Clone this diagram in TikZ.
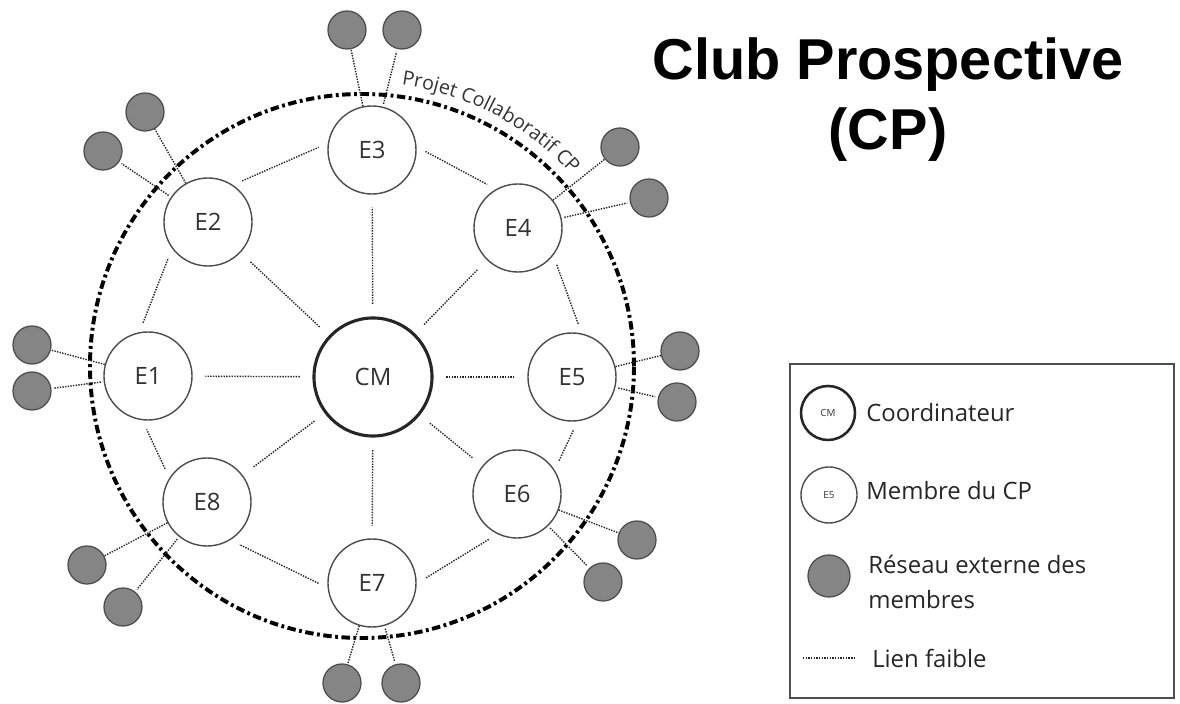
\documentclass[tikz,border=0pt]{standalone}
\usepackage{fontspec}
\setmainfont{Open Sans}
\newfontfamily\titrefont{Liberation Sans}
\usepackage{tikz}
\usetikzlibrary{
	calc,
	decorations.text,
}
\definecolor{reseau}{HTML}{858585}
\definecolor{bord}{HTML}{4D4D4D}

\begin{document}
\begin{tikzpicture}[
	x=0.025cm, y=0.025cm,
	membre/.style={circle, draw=bord, line width=1pt, fill=white, minimum size=2.2cm,
		inner sep=0pt, text=black!80, font=\fontsize{17}{17}\selectfont},
	coord/.style={membre, draw=black!85, line width=2.2pt, minimum size=2.95cm},
	externe/.style={circle, draw=bord, line width=0.9pt, fill=reseau, minimum size=0.95cm, inner sep=0pt},
	lien/.style={draw=black!85, line width=1pt, dash pattern=on 1pt off 0.9pt},
	legende/.style={anchor=west, inner sep=0pt, text=black!85, font=\fontsize{17}{25}\selectfont},
]
\useasboundingbox (0,0) rectangle (1180,704);

% projet collaboratif
\draw[line width=2.8pt, dash pattern=on 6pt off 2.5pt on 2pt off 2.5pt] (362,338) circle[radius=272];
\path[decorate, decoration={text along path, text={|\fontsize{14}{14}\selectfont\color{black!80}|Projet Collaboratif CP}}]
	(362,338) ++(82:284) arc[start angle=82, end angle=36, radius=284];

% membres
\node[coord] (CM) at (373,327) {CM};
\node[membre] (E1) at (148,328) {E1};
\node[membre] (E2) at (208,482) {E2};
\node[membre] (E3) at (372,554) {E3};
\node[membre] (E4) at (518,476) {E4};
\node[membre] (E5) at (572,327) {E5};
\node[membre] (E6) at (517,210) {E6};
\node[membre] (E7) at (372,121) {E7};
\node[membre] (E8) at (207,202) {E8};

% reseaux externes
\node[externe] (r1a) at (32,359) {};
\node[externe] (r1b) at (32,313) {};
\node[externe] (r2a) at (145,592) {};
\node[externe] (r2b) at (103,553) {};
\node[externe] (r3a) at (347,674) {};
\node[externe] (r3b) at (402,674) {};
\node[externe] (r4a) at (620,557) {};
\node[externe] (r4b) at (649,506) {};
\node[externe] (r5a) at (680,353) {};
\node[externe] (r5b) at (677,302) {};
\node[externe] (r6a) at (637,164) {};
\node[externe] (r6b) at (603,122) {};
\node[externe] (r7a) at (342,21) {};
\node[externe] (r7b) at (401,21) {};
\node[externe] (r8a) at (87,139) {};
\node[externe] (r8b) at (123,97) {};

% liens faibles
\foreach \i in {1,...,8}
	\draw[lien, shorten <=9pt, shorten >=9pt] (CM) -- (E\i);
\foreach \a/\b in {3/4,4/5,5/6,6/7,7/8,8/1,1/2,2/3}
	\draw[lien, shorten <=34pt, shorten >=34pt] ($(E\a)!17pt!90:(E\b)$) -- ($(E\b)!17pt!-90:(E\a)$);
\foreach \i in {1,...,8}
	\draw[lien, shorten <=2pt, shorten >=2pt] (E\i) -- (r\i a) (E\i) -- (r\i b);

% titre
\node[anchor=north, align=center, inner sep=0pt, font=\titrefont\bfseries\fontsize{41}{50}\selectfont] (titre) at (888,667) {Club Prospective\\(CP)};

% legende
\draw[draw=bord, line width=1.2pt] (790,6) rectangle (1174,340);
\node[coord, minimum size=1.35cm, line width=1.8pt, font=\fontsize{7}{7}\selectfont] (lcm) at (828,291) {CM};
\node[legende] (tcm) at (866,291) {Coordinateur};
\node[membre, minimum size=1.4cm, font=\fontsize{7}{7}\selectfont] (lmb) at (829,209) {E5};
\node[legende] (tmb) at (866,213) {Membre du CP};
\node[externe, minimum size=1.05cm] (lre) at (829,128) {};
\node[legende, align=left] (tre) at (868,122) {Réseau externe des\\membres};
\coordinate (lf1) at (803,46);
\coordinate (lf2) at (855,46);
\draw[lien] (lf1) -- (lf2);
\node[legende] (tlf) at (872,46) {Lien faible};
\end{tikzpicture}
\end{document}
